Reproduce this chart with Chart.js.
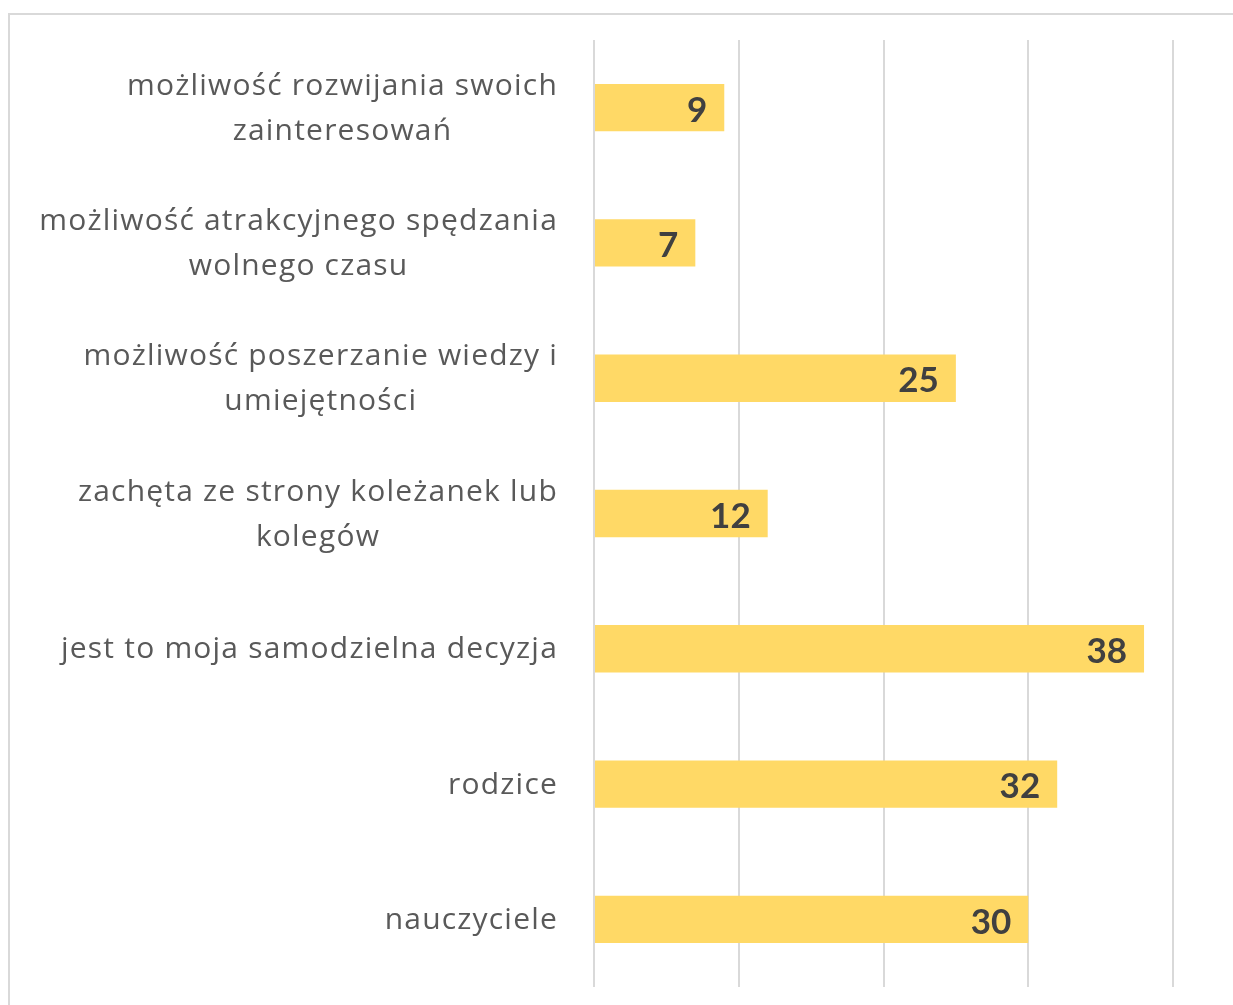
<!DOCTYPE html>
<html>
<head>
<meta charset="utf-8">
<script src="https://cdn.jsdelivr.net/npm/chart.js@4/dist/chart.umd.min.js"></script>
<style>
  html, body { margin: 0; padding: 0; background: #fff; overflow: hidden; }
  #frame { position: absolute; left: 8px; top: 13px; width: 1300px; height: 1100px; border: 2px solid #d9d9d9; }
  #wrap { position: absolute; left: 0; top: 0; width: 1233px; height: 1005px; }
</style>
</head>
<body>
<div id="frame"></div>
<div id="wrap"><canvas id="chart"></canvas></div>
<script>
const categories = [
  ['możliwość rozwijania swoich', 'zainteresowań'],
  ['możliwość atrakcyjnego spędzania', 'wolnego czasu'],
  ['możliwość poszerzanie wiedzy i', 'umiejętności'],
  ['zachęta ze strony koleżanek lub', 'kolegów'],
  ['jest to moja samodzielna decyzja'],
  ['rodzice'],
  ['nauczyciele']
];
const values = [9, 7, 25, 12, 38, 32, 30];
const axisMax = 40;

const labelFont = '30px "Open Sans"';
const valueFont = 'bold 35px Lato';

// category labels: block right-aligned, lines centered inside the block (Excel style)
const categoryLabels = {
  id: 'categoryLabels',
  afterDraw(chart) {
    const ctx = chart.ctx;
    const y = chart.scales.y;
    ctx.save();
    ctx.font = labelFont;
    ctx.letterSpacing = '1.2px';
    ctx.fillStyle = '#595959';
    ctx.textAlign = 'center';
    ctx.textBaseline = 'middle';
    const right = 558;
    const lh = 45;
    categories.forEach((lines, i) => {
      const cy = y.getPixelForTick(i) + 1;
      const w = Math.max(...lines.map(l => ctx.measureText(l).width));
      const cx = right - w / 2;
      const top = cy - (lines.length - 1) * lh / 2;
      lines.forEach((l, j) => ctx.fillText(l, cx, top + j * lh));
    });
    ctx.restore();
  }
};

// value labels at the inside end of each bar
const valueLabels = {
  id: 'valueLabels',
  afterDatasetsDraw(chart) {
    const ctx = chart.ctx;
    const meta = chart.getDatasetMeta(0);
    ctx.save();
    ctx.font = valueFont;
    ctx.fillStyle = '#404040';
    ctx.textAlign = 'right';
    ctx.textBaseline = 'middle';
    meta.data.forEach((bar, i) => {
      ctx.fillText(String(values[i]), bar.x - 17, bar.y + 3);
    });
    ctx.restore();
  }
};

new Chart(document.getElementById('chart'), {
  type: 'bar',
  data: {
    labels: categories,
    datasets: [{
      data: values,
      backgroundColor: '#ffd966',
      borderWidth: 0,
      barPercentage: 0.35,
      categoryPercentage: 1
    }]
  },
  options: {
    indexAxis: 'y',
    responsive: true,
    maintainAspectRatio: false,
    animation: false,
    layout: { padding: { top: 40, bottom: 18, right: 60, left: 0 } },
    plugins: { legend: { display: false }, tooltip: { enabled: false } },
    scales: {
      x: {
        min: 0,
        max: axisMax,
        ticks: { display: false, stepSize: 10 },
        grid: { color: '#d9d9d9', lineWidth: 2, drawTicks: false },
        border: { display: false },
        afterFit(scale) { scale.height = 0; }
      },
      y: {
        ticks: { display: false },
        grid: { display: false, drawTicks: false },
        border: { display: false },
        afterFit(scale) { scale.width = 594; }
      }
    }
  },
  plugins: [categoryLabels, valueLabels]
});
</script>
</body>
</html>
